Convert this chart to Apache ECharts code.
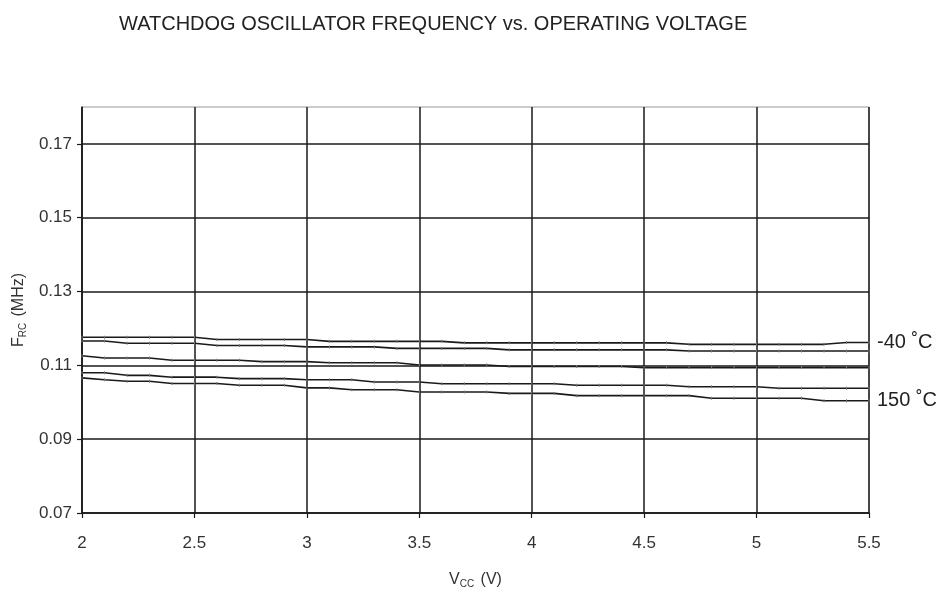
<!DOCTYPE html>
<html>
<head>
<meta charset="utf-8">
<script src="https://cdn.jsdelivr.net/npm/echarts@6/dist/echarts.min.js"></script>
<style>
  html, body { margin: 0; padding: 0; background: #fff; }
  #main { width: 945px; height: 590px; }
</style>
</head>
<body>
<div id="main"></div>
<script>
// supply voltage, 2.0 .. 5.5 V in 0.1 V steps
const vcc = [2.0, 2.1, 2.2, 2.3, 2.4, 2.5, 2.6, 2.7, 2.8, 2.9,
  3.0, 3.1, 3.2, 3.3, 3.4, 3.5, 3.6, 3.7, 3.8, 3.9,
  4.0, 4.1, 4.2, 4.3, 4.4, 4.5, 4.6, 4.7, 4.8, 4.9,
  5.0, 5.1, 5.2, 5.3, 5.4, 5.5];

// frequency in MHz (top curve = -40 C, bottom = 150 C)
const fMinus40 = [0.1176, 0.1176, 0.1176, 0.1176, 0.1176, 0.1176, 0.1170, 0.1170, 0.1170, 0.1170,
  0.1170, 0.1165, 0.1165, 0.1165, 0.1165, 0.1165, 0.1165, 0.1161, 0.1161, 0.1161,
  0.1161, 0.1161, 0.1161, 0.1161, 0.1161, 0.1161, 0.1161, 0.1157, 0.1157, 0.1157,
  0.1157, 0.1157, 0.1157, 0.1157, 0.1162, 0.1162];
const fCurve2 = [0.1166, 0.1166, 0.1160, 0.1160, 0.1160, 0.1160, 0.1154, 0.1154, 0.1154, 0.1154,
  0.1150, 0.1150, 0.1150, 0.1150, 0.1146, 0.1146, 0.1146, 0.1146, 0.1146, 0.1142,
  0.1142, 0.1142, 0.1142, 0.1142, 0.1142, 0.1142, 0.1142, 0.1139, 0.1139, 0.1139,
  0.1139, 0.1139, 0.1139, 0.1139, 0.1139, 0.1139];
const fCurve3 = [0.1126, 0.1120, 0.1120, 0.1120, 0.1114, 0.1114, 0.1114, 0.1114, 0.1110, 0.1110,
  0.1110, 0.1107, 0.1107, 0.1107, 0.1107, 0.1101, 0.1101, 0.1101, 0.1101, 0.1097,
  0.1097, 0.1097, 0.1097, 0.1097, 0.1097, 0.1094, 0.1094, 0.1094, 0.1094, 0.1094,
  0.1094, 0.1094, 0.1094, 0.1094, 0.1094, 0.1094];
const fCurve4 = [0.1080, 0.1080, 0.1073, 0.1073, 0.1068, 0.1068, 0.1068, 0.1064, 0.1064, 0.1064,
  0.1061, 0.1061, 0.1061, 0.1055, 0.1055, 0.1055, 0.1050, 0.1050, 0.1050, 0.1050,
  0.1050, 0.1050, 0.1046, 0.1046, 0.1046, 0.1046, 0.1046, 0.1042, 0.1042, 0.1042,
  0.1042, 0.1038, 0.1038, 0.1038, 0.1038, 0.1038];
const f150 = [0.1066, 0.1061, 0.1057, 0.1057, 0.1051, 0.1051, 0.1051, 0.1046, 0.1046, 0.1046,
  0.1039, 0.1039, 0.1034, 0.1034, 0.1034, 0.1028, 0.1028, 0.1028, 0.1028, 0.1024,
  0.1024, 0.1024, 0.1018, 0.1018, 0.1018, 0.1018, 0.1018, 0.1018, 0.1011, 0.1011,
  0.1011, 0.1011, 0.1011, 0.1004, 0.1004, 0.1004];

const yTicks = [0.07, 0.09, 0.11, 0.13, 0.15, 0.17];
const curves = [fMinus40, fCurve2, fCurve3, fCurve4, f150];
const endTexts = ['-40 ˚C', '', '', '', '150 ˚C'];

const font = 'Liberation Sans, Arial, sans-serif';

var chartDom = document.getElementById('main');
var myChart = echarts.init(chartDom);

const series = curves.map(function (vals, i) {
  return {
    type: 'line',
    data: vals.map(function (v, j) { return [vcc[j], v]; }),
    symbol: 'rect',
    symbolSize: [1, 3],
    showSymbol: true,
    itemStyle: { color: '#777' },
    lineStyle: { color: '#1a1a1a', width: 1.6 },
    emphasis: { disabled: true },
    endLabel: {
      show: endTexts[i] !== '',
      formatter: endTexts[i],
      distance: 8,
      fontFamily: font,
      fontSize: 20,
      color: '#222'
    },
    z: 3
  };
});

const nameRich = {
  a: { fontFamily: font, fontSize: 16, color: '#333' },
  s: { fontFamily: font, fontSize: 10, color: '#333', verticalAlign: 'bottom', padding: [8, 3, 0, 0] }
};

const option = {
  animation: false,
  backgroundColor: '#fff',
  title: {
    text: 'WATCHDOG OSCILLATOR FREQUENCY vs. OPERATING VOLTAGE',
    left: 114,
    top: 9,
    textStyle: { fontFamily: font, fontSize: 20, fontWeight: 'normal', color: '#222' }
  },
  grid: {
    left: 82,
    right: 76,
    top: 107,
    bottom: 77,
    outerBoundsMode: 'none',
    containLabel: false,
    show: true,
    borderColor: '#999',
    borderWidth: 1
  },
  xAxis: {
    type: 'value',
    min: 2,
    max: 5.5,
    interval: 0.5,
    name: '{a|V}{s|CC} {a|(V)}',
    nameLocation: 'middle',
    nameGap: 58,
    nameTextStyle: { rich: nameRich },
    axisLine: { lineStyle: { color: '#1a1a1a', width: 1.5 } },
    axisTick: { show: true, inside: false, length: 5, lineStyle: { color: '#1a1a1a', width: 1.2 } },
    axisLabel: { margin: 22, fontFamily: font, fontSize: 17, color: '#333' },
    splitLine: { show: true, lineStyle: { color: '#1a1a1a', width: 1.5 } }
  },
  yAxis: {
    type: 'value',
    min: 0.07,
    max: 0.18,
    name: '{a|F}{s|RC} {a|(MHz)}',
    nameLocation: 'middle',
    nameGap: 54,
    nameRotate: 90,
    nameTextStyle: { rich: nameRich },
    axisLine: { show: true, lineStyle: { color: '#1a1a1a', width: 1.5 } },
    axisTick: { show: true, inside: false, length: 5, customValues: yTicks, lineStyle: { color: '#1a1a1a', width: 1.2 } },
    axisLabel: {
      margin: 10,
      customValues: yTicks,
      fontFamily: font,
      fontSize: 17,
      color: '#333',
      formatter: function (v) { return v.toFixed(2); }
    },
    splitLine: { show: true, lineStyle: { color: '#1a1a1a', width: 1.5 } }
  },
  series: series
};

option && myChart.setOption(option);
</script>
</body>
</html>
